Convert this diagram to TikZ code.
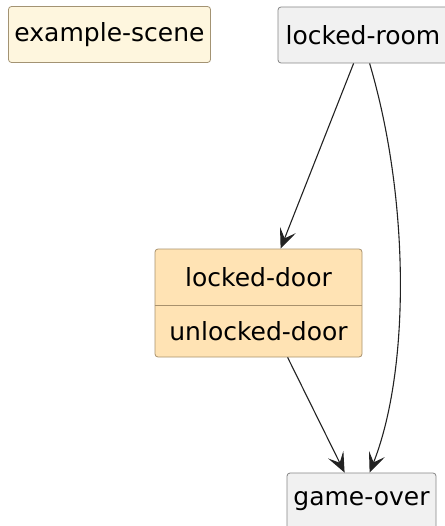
\documentclass[tikz,border=0pt]{standalone}
\usepackage{fontspec}
\setmainfont{DejaVu Sans}
\usetikzlibrary{arrows.meta,calc}
\definecolor{scenefill}{HTML}{FEF6DE}
\definecolor{sceneline}{HTML}{A39373}
\definecolor{greyfill}{HTML}{F1F1F1}
\definecolor{greyline}{HTML}{868686}
\definecolor{doorfill}{HTML}{FFE3B4}
\definecolor{doorline}{HTML}{A8916D}
\definecolor{edgecol}{HTML}{222222}
\begin{document}
\begin{tikzpicture}[x=1pt,y=1pt]
\useasboundingbox (0,0) rectangle (444,-526);
\tikzset{
  box/.style={draw, rounded corners=3pt, line width=0.8pt, inner sep=0pt, font=\fontsize{25}{30}\selectfont},
  lbl/.style={inner sep=0pt, font=\fontsize{25}{30}\selectfont},
  edge/.style={draw=edgecol, line width=1.1pt, -{Stealth[length=20pt, width=17pt, inset=9pt]}}
}
\node[box, fill=scenefill, draw=sceneline, minimum width=202, minimum height=56] (scene) at (109.5,-34.5) {example-scene};
\node[box, fill=greyfill, draw=greyline, minimum width=170, minimum height=56] (room) at (363,-35) {locked-room};
\node[box, fill=doorfill, draw=doorline, minimum width=207, minimum height=108] (door) at (258.5,-303) {};
\draw[doorline, line width=0.8pt] (door.west |- 0,-305) -- (door.east |- 0,-305);
\node[lbl] (dtop) at (258.5,-277) {locked-door};
\node[lbl] (dbot) at (258.5,-331) {unlocked-door};
\node[box, fill=greyfill, draw=greyline, minimum width=149, minimum height=56] (over) at (361.5,-501) {game-over};
\coordinate (r1) at ($(room.south west)+(76,0)$);
\coordinate (r2) at ($(room.south west)+(92,0)$);
\coordinate (d1) at ($(door.north west)+(126,0)$);
\coordinate (d2) at ($(door.south west)+(133,0)$);
\coordinate (o1) at ($(over.north west)+(58,0)$);
\coordinate (o2) at ($(over.north west)+(83,0)$);
\draw[edge] (r1) -- (d1);
\draw[edge] (d2) -- (o1);
\draw[edge] (r2) .. controls (410,-200) and (410,-370) .. (o2);
\end{tikzpicture}
\end{document}
